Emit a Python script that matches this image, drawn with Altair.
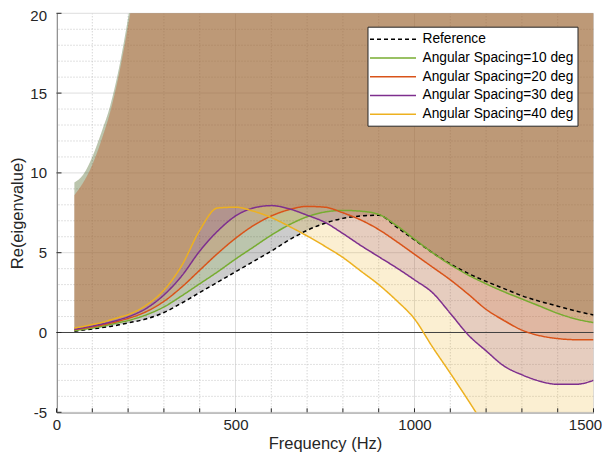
import altair as alt
import pandas as pd

# ---------------- data ----------------
freq = [50, 75, 100, 125, 150, 175, 200, 250, 300, 350, 400, 450, 500, 550, 600,
        650, 700, 750, 800, 850, 900, 950, 1000, 1050, 1100, 1150, 1200, 1250,
        1300, 1350, 1400, 1450, 1500]

ref_vals = [0.08, 0.15, 0.22, 0.30, 0.38, 0.48, 0.60, 0.85, 1.25, 1.85, 2.50, 3.15,
            3.80, 4.45, 5.10, 5.80, 6.40, 6.85, 7.15, 7.30, 7.35, 6.60, 5.80, 5.00,
            4.30, 3.70, 3.20, 2.75, 2.30, 1.95, 1.65, 1.35, 1.10]
deg10_vals = [0.12, 0.20, 0.28, 0.38, 0.50, 0.62, 0.75, 1.10, 1.60, 2.30, 3.05, 3.80,
              4.60, 5.35, 6.10, 6.75, 7.25, 7.55, 7.65, 7.60, 7.40, 6.70, 5.85, 5.00,
              4.25, 3.60, 3.05, 2.55, 2.10, 1.65, 1.20, 0.85, 0.62]
deg20_vals = [0.18, 0.26, 0.35, 0.46, 0.58, 0.72, 0.88, 1.30, 1.95, 2.85, 3.90, 4.95,
              5.90, 6.70, 7.30, 7.70, 7.90, 7.85, 7.50, 7.05, 6.45, 5.70, 4.90, 4.10,
              3.30, 2.40, 1.45, 0.75, 0.15, -0.20, -0.38, -0.45, -0.45]
deg30_vals = [0.20, 0.30, 0.40, 0.52, 0.65, 0.80, 0.98, 1.50, 2.35, 3.55, 5.10, 6.35,
              7.30, 7.80, 7.95, 7.75, 7.35, 6.90, 6.20, 5.45, 4.75, 4.05, 3.30, 2.50,
              1.20, -0.15, -1.15, -2.10, -2.65, -3.05, -3.25, -3.25, -3.00]
deg40_vals = [0.28, 0.38, 0.50, 0.62, 0.78, 0.95, 1.12, 1.70, 2.65, 4.20, 6.40, 7.80,
              7.85, 7.60, 7.20, 6.65, 6.05, 5.40, 4.70, 3.85, 3.00, 2.00, 0.85, -0.90,
              -2.55, -4.25, -6.00, -7.70, -9.30, -10.8, -12.2, -13.5, -14.8]

# upper edges of the shaded bands (they leave the top of the plot near 200 Hz)
upper_a = [9.4, 9.9, 11.0, 12.5, 14.2, 16.6, 19.7, 27, 36, 40, 40, 40, 40, 40, 40,
           40, 40, 40, 40, 40, 40, 40, 40, 40, 40, 40, 40, 40, 40, 40, 40, 40, 40]
upper_b = [8.6, 9.4, 10.5, 12.0, 13.8, 16.2, 19.2, 26.5, 35.5, 40, 40, 40, 40, 40, 40,
           40, 40, 40, 40, 40, 40, 40, 40, 40, 40, 40, 40, 40, 40, 40, 40, 40, 40]

series_names = ["Reference", "Angular Spacing=10 deg", "Angular Spacing=20 deg",
                "Angular Spacing=30 deg", "Angular Spacing=40 deg"]
series_colors = ["#000000", "#77AC30", "#D95319", "#7E2F8E", "#EDB120"]
series_dash = [[4, 3], [1, 0], [1, 0], [1, 0], [1, 0]]
series_values = [ref_vals, deg10_vals, deg20_vals, deg30_vals, deg40_vals]
series_upper = [upper_a, upper_a, upper_b, upper_b, upper_b]

x_major = [0, 500, 1000, 1500]
x_minor = [100, 200, 300, 400, 600, 700, 800, 900, 1100, 1200, 1300, 1400]
x_ticks = [0, 100, 200, 300, 400, 500, 600, 700, 800, 900, 1000, 1100, 1200, 1300, 1400, 1500]
y_major = [-5, 0, 5, 10, 15, 20]
y_minor = [-4, -3, -2, -1, 1, 2, 3, 4, 6, 7, 8, 9, 11, 12, 13, 14, 16, 17, 18, 19]

rows = []
for name, vals, up in zip(series_names, series_values, series_upper):
    for f, v, u in zip(freq, vals, up):
        rows.append({"f": f, "v": v, "upper": u, "series": name})
df = pd.DataFrame(rows)

W, H = 537, 399
FONT = "Liberation Sans"
TXT = "#262626"

xscale = alt.Scale(domain=[0, 1500], nice=False, zero=False)
yscale = alt.Scale(domain=[-5, 20], nice=False, zero=False)

# one identical axis definition shared by every layer (so the layers merge cleanly)
x_axis = alt.Axis(
    values=x_major, title="Frequency (Hz)", labelPadding=5, labelExpr="'' + datum.value",
    labelOffset={"condition": {"test": "datum.value === 1500", "value": -8.5}, "value": 0},
    titleBaseline="alphabetic", titleY=36.3,
)
y_axis = alt.Axis(
    values=y_major, title="Re(eigenvalue)", labelPadding=10, labelExpr="'' + datum.value",
    labelOffset={"condition": {"test": "datum.value === 20", "value": 2.5}, "value": 0},
    titleBaseline="alphabetic", titleX=-34.5, titleY=H / 2,
)


def X(field):
    return alt.X(field, scale=xscale, axis=x_axis)


def Y(field):
    return alt.Y(field, scale=yscale, axis=y_axis)


# grid (drawn first, behind everything)
gx_minor = alt.Chart(pd.DataFrame({"f": x_minor})).mark_rule(
    color="#c4c4c4", strokeWidth=1, strokeDash=[1, 2]).encode(x=X("f:Q"))
gx_major = alt.Chart(pd.DataFrame({"f": x_major})).mark_rule(
    color="#dedede", strokeWidth=1).encode(x=X("f:Q"))
gy_minor = alt.Chart(pd.DataFrame({"v": y_minor})).mark_rule(
    color="#c4c4c4", strokeWidth=1, strokeDash=[1, 2]).encode(y=Y("v:Q"))
gy_major = alt.Chart(pd.DataFrame({"v": y_major})).mark_rule(
    color="#dedede", strokeWidth=1).encode(y=Y("v:Q"))

layers = [gx_minor, gx_major, gy_minor, gy_major]
for name, col in zip(series_names, series_colors):
    layers.append(
        alt.Chart(df).transform_filter(alt.datum.series == name)
        .mark_area(color=col, opacity=0.2, interpolate="monotone", clip=True)
        .encode(x=X("f:Q"), y=Y("v:Q"), y2="upper:Q")
    )

zero = alt.Chart(pd.DataFrame({"v": [0]})).mark_rule(color="#404040", strokeWidth=1).encode(
    y=Y("v:Q")
)

legend = alt.Legend(
    title=None, orient="none", legendX=311, legendY=13.4, direction="vertical",
    symbolType="M-3,0H3", symbolSize=235, symbolStrokeWidth=1.5,
    labelFont=FONT, labelFontSize=13.75, labelColor="#000000", labelLimit=400,
    fillColor="#ffffff", strokeColor="#262626", padding=4, rowPadding=2.75,
    symbolOffset=13, labelOffset=21,
)

lines = alt.Chart(df).mark_line(strokeWidth=1.5, interpolate="monotone", clip=True).encode(
    x=X("f:Q"),
    y=Y("v:Q"),
    color=alt.Color("series:N", scale=alt.Scale(domain=series_names, range=series_colors),
                    legend=legend, sort=series_names),
    strokeDash=alt.StrokeDash("series:N", scale=alt.Scale(domain=series_names, range=series_dash),
                              legend=legend, sort=series_names),
)

# inward tick marks (MATLAB style)
xt = alt.Chart(pd.DataFrame({"f": x_ticks})).mark_rule(color=TXT, strokeWidth=1).encode(
    x=X("f:Q"), y=alt.value(H), y2=alt.value(H - 4)
)
yt = alt.Chart(pd.DataFrame({"v": y_major})).mark_rule(color=TXT, strokeWidth=1).encode(
    y=Y("v:Q"), x=alt.value(0), x2=alt.value(5)
)

chart = alt.layer(*layers, zero, lines, xt, yt).properties(
    width=W, height=H,
    autosize=alt.AutoSizeParams(type="none"),
    padding={"left": 48.5, "top": 5.3, "right": 8.5, "bottom": 40.5},
    background="white",
).configure_view(stroke=None).configure_axis(
    ticks=False, grid=False, labelFont=FONT, labelFontSize=15, labelColor=TXT,
    domainColor=TXT, domainWidth=1, labelFlush=False,
    titleFont=FONT, titleFontSize=16.5, titleFontWeight="normal", titleColor=TXT,
)

chart.save("out.html", embed_options={"renderer": "svg", "actions": False})
